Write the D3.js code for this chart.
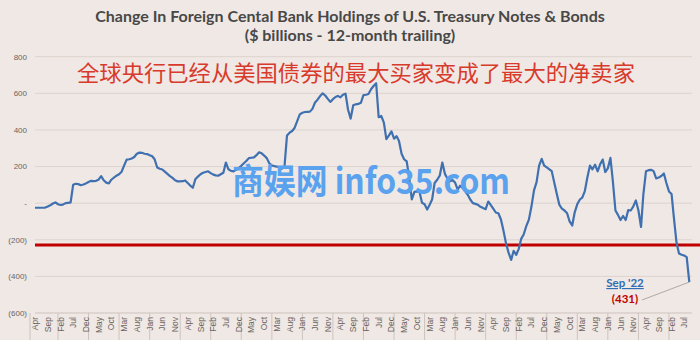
<!DOCTYPE html>
<html>
<head>
<meta charset="utf-8">
<script src="https://cdn.jsdelivr.net/npm/d3@7"></script>
<style>
  body { margin: 0; background: #f0e8e4; }
  svg { display: block; }
</style>
</head>
<body>
<div id="chart"></div>
<script>
// monthly values, Apr 2001 .. Sep 2022 ($ billions, 12-month trailing change)
var startMonth = new Date(2001, 3, 1)
var endMonth = new Date(2022, 8, 1)
var holdings = [
  -25, -25, -25, -25, -24, -18, -12, -2, 4, -6, -10, -8,
  0, 2, 4, 100, 106, 104, 98, 102, 108, 116, 122, 120,
  122, 128, 148, 125, 112, 108, 128, 140, 150, 158, 172, 205,
  238, 240, 244, 252, 270, 276, 275, 270, 268, 262, 256, 240,
  195, 188, 184, 172, 160, 148, 138, 125, 119, 119, 120, 124,
  110, 96, 84, 130, 145, 158, 166, 170, 174, 164, 156, 152,
  150, 158, 166, 222, 185, 176, 174, 182, 192, 204, 218, 230,
  246, 248, 250, 262, 278, 272, 260, 246, 218, 206, 202, 200,
  196, 188, 200, 370, 385, 394, 412, 450, 485, 494, 498, 499,
  500, 515, 550, 565, 585, 600, 588, 570, 553, 568, 580, 586,
  578, 592, 598, 510, 462, 535, 540, 542, 548, 590, 592, 596,
  622, 640, 655, 470, 476, 440, 350, 370, 392, 352, 366, 340,
  270, 240, 228, 140, 20, 62, 64, 62, 2, -6, -35, -10,
  20, 110, 128, 150, 222, 160, 135, 119, 126, 112, 74, 95,
  84, 64, 46, 20, 0, -4, -9, -20, -27, -33, 9, -9,
  -30, -51, -55, -88, -150, -220, -270, -310, -260, -282, -248, -195,
  -170, -125, -90, -20, 70, 115, 205, 242, 205, 195, 185, 175,
  112, 50, -10, -30, -40, -55, -100, -122, -50, -5, 20, 30,
  66, 140, 205, 185, 210, 174, 212, 238, 170, 190, 247, 120,
  -40, -64, -92, -70, -92, -38, -40, -18, 15, -40, -130, 50,
  174, 180, 182, 175, 135, 140, 148, 162, 110, 64, 50, -80,
  -215, -275, -282, -286, -295, -431
]
var yTicks = [-600, -400, -200, 0, 200, 400, 600, 800]
var thresholdValue = -228
var titleLines = ["Change In Foreign Cental Bank Holdings of U.S. Treasury Notes & Bonds", "($ billions - 12-month trailing)"]
var headline = "全球央行已经从美国债券的最大买家变成了最大的净卖家"
var watermark = "商娱网 info35.com"
var lastLabel = "Sep '22"
var lastValueLabel = "(431)"

var months = d3.timeMonth.range(startMonth, d3.timeMonth.offset(endMonth, 1))
var data = months.map(function (m, i) { return { date: m, value: holdings[i] } })

var width = 700
var height = 340
var plotLeft = 35
var plotRight = 689.3

var svg = d3.select("#chart").append("svg")
  .attr("width", width)
  .attr("height", height)

svg.append("rect").attr("width", width).attr("height", height).attr("fill", "#f0e8e4")

var x = d3.scaleTime().domain([startMonth, endMonth]).range([plotLeft, plotRight])
var y = d3.scaleLinear().domain([-600, 800]).range([313, 56.7])

// gridlines
svg.append("g").selectAll("line").data(yTicks).enter().append("line")
  .attr("x1", plotLeft)
  .attr("x2", 692)
  .attr("y1", function (d) { return y(d) })
  .attr("y2", function (d) { return y(d) })
  .attr("stroke", function (d) { return d == -600 ? "#cdc3bf" : "#ddd3cf" })
  .attr("stroke-width", 1)

// y labels, accounting style
var fmtY = function (d) {
  if (d == 0) return "-"
  return d < 0 ? "(" + Math.abs(d) + ")" : String(d)
}
svg.append("g").selectAll("text").data(yTicks).enter().append("text")
  .attr("x", 27)
  .attr("y", function (d) { return y(d) })
  .attr("dy", "0.35em")
  .attr("text-anchor", "end")
  .style("font-family", "Liberation Sans, Arial, sans-serif")
  .style("font-size", "8px")
  .style("fill", "#6a6462")
  .text(fmtY)

// year dividers under the axis
var years = d3.timeYear.range(d3.timeYear.ceil(startMonth), endMonth)
svg.append("g").selectAll("line").data(years).enter().append("line")
  .attr("x1", function (d) { return x(d) })
  .attr("x2", function (d) { return x(d) })
  .attr("y1", 313)
  .attr("y2", height)
  .attr("stroke", "#cdc3bf")
svg.append("line").attr("x1", 30).attr("x2", 30).attr("y1", 313).attr("y2", height).attr("stroke", "#cdc3bf")

// month labels every 5 months
var labelMonths = months.filter(function (m, i) { return i % 5 == 0 })
svg.append("g").selectAll("text").data(labelMonths).enter().append("text")
  .attr("transform", function (d) { return "translate(" + x(d) + ",317) rotate(-90)" })
  .attr("dy", "0.35em")
  .attr("text-anchor", "end")
  .style("font-family", "Liberation Sans, Arial, sans-serif")
  .style("font-size", "8.5px")
  .style("fill", "#6a6462")
  .text(d3.timeFormat("%b"))

// threshold
svg.append("line")
  .attr("x1", plotLeft)
  .attr("x2", width)
  .attr("y1", y(thresholdValue))
  .attr("y2", y(thresholdValue))
  .attr("stroke", "#c00000")
  .attr("stroke-width", 3)

// the series
var line = d3.line()
  .x(function (d) { return x(d.date) })
  .y(function (d) { return y(d.value) })

svg.append("path")
  .datum(data)
  .attr("d", line)
  .attr("fill", "none")
  .attr("stroke", "#3f70b0")
  .attr("stroke-width", 2.2)
  .attr("stroke-linejoin", "round")

// titles
svg.append("g").selectAll("text").data(titleLines).enter().append("text")
  .attr("x", 350)
  .attr("y", function (d, i) { return 22 + i * 19 })
  .attr("text-anchor", "middle")
  .style("font-family", "Lato, sans-serif")
  .style("font-weight", "bold")
  .style("font-size", "16px")
  .style("fill", "#484848")
  .text(function (d) { return d })

svg.append("text")
  .attr("x", 356)
  .attr("y", 81)
  .attr("text-anchor", "middle")
  .attr("textLength", 558)
  .attr("lengthAdjust", "spacingAndGlyphs")
  .style("font-family", "Noto Sans CJK SC, sans-serif")
  .style("font-size", "22px")
  .style("fill", "#d83b2c")
  .text(headline)

// watermark
svg.append("text")
  .attr("x", 371)
  .attr("y", 194)
  .attr("text-anchor", "middle")
  .attr("textLength", 278)
  .attr("lengthAdjust", "spacingAndGlyphs")
  .style("font-family", "Noto Sans CJK SC, sans-serif")
  .style("font-weight", "bold")
  .style("font-size", "35px")
  .style("fill", "#5aa2ee")
  .text(watermark)

// callout for the last point
var last = data[data.length - 1]
svg.append("line")
  .attr("x1", 642)
  .attr("y1", 300)
  .attr("x2", x(last.date))
  .attr("y2", y(last.value))
  .attr("stroke", "#a09894")
  .attr("stroke-width", 0.8)

svg.append("text")
  .attr("x", 625)
  .attr("y", 287)
  .attr("text-anchor", "middle")
  .style("font-family", "Lato, sans-serif")
  .style("font-weight", "bold")
  .style("font-size", "11.5px")
  .style("text-decoration", "underline")
  .style("fill", "#2f6db5")
  .text(lastLabel)

svg.append("text")
  .attr("x", 625)
  .attr("y", 303)
  .attr("text-anchor", "middle")
  .style("font-family", "Lato, sans-serif")
  .style("font-weight", "bold")
  .style("font-size", "11.5px")
  .style("fill", "#c00000")
  .text(lastValueLabel)
</script>
</body>
</html>
